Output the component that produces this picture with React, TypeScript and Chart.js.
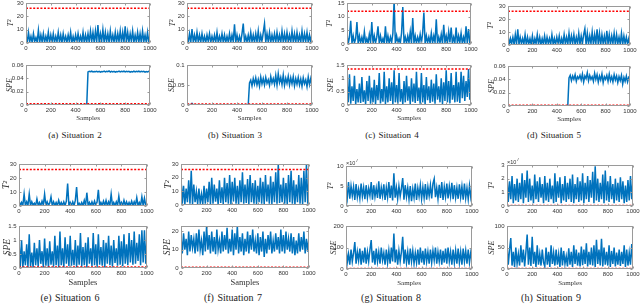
import React, { useEffect, useRef } from 'react';
import { Chart, registerables } from 'chart.js';

Chart.register(...registerables);

// ---------------- DATA (one value every 10 samples, 0..1000) ----------------
const SAMPLE_MAX = 1000;
const X_TICK_STEP = 200;

// Situation 2
const sit2T2 = [
  6, 0.4, 8, 0.9, 5, 0.3, 7, 1.2, 4, 0.6,
  9.5, 0.2, 6, 0.8, 7, 0.5, 5, 1, 8, 0.3,
  6, 0.7, 7, 0.4, 5, 0.9, 8, 0.6, 6, 0.2,
  7, 1.1, 5, 0.5, 6, 0.8, 8, 0.3, 5, 0.7,
  6, 0.4, 7, 1, 5, 0.6, 8, 0.3, 6, 0.9,
  7, 0.5, 9, 1.3, 8, 0.4, 9, 0.8, 13.5, 0.6,
  7, 1.2, 10, 0.5, 8, 0.9, 7, 0.3, 9, 1.1,
  6, 0.7, 8, 0.4, 7, 1, 9, 0.6, 8, 0.5,
  12.5, 0.8, 8, 0.5, 7, 1.2, 9, 0.4, 6, 0.9,
  8, 0.6, 7, 0.3, 9, 1, 6, 0.7, 8, 0.5,
  6,
];
const sit2SPE = [
  0.0004, 0.0001, 0.0005, 0.0002, 0.0006, 0.0001, 0.0004, 0.0002, 0.0005, 0.0001,
  0.0005, 0.0002, 0.0004, 0.0001, 0.0006, 0.0002, 0.0005, 0.0001, 0.0004, 0.0002,
  0.0006, 0.0001, 0.0004, 0.0002, 0.0005, 0.0001, 0.0006, 0.0002, 0.0004, 0.0001,
  0.0005, 0.0002, 0.0006, 0.0001, 0.0004, 0.0002, 0.0005, 0.0001, 0.0006, 0.0002,
  0.0004, 0.0001, 0.0005, 0.0002, 0.0004, 0.0001, 0.0006, 0.0002, 0.0005, 0.0003,
  0.0496, 0.0504, 0.0498, 0.0507, 0.0495, 0.0503, 0.0499, 0.0506, 0.0497, 0.0505,
  0.0494, 0.0503, 0.0498, 0.0508, 0.0496, 0.0504, 0.0499, 0.0511, 0.0495, 0.0505,
  0.0497, 0.0506, 0.0494, 0.0503, 0.0498, 0.0509, 0.0496, 0.0504, 0.0499, 0.0507,
  0.0495, 0.0504, 0.0498, 0.0506, 0.0493, 0.0503, 0.0497, 0.0508, 0.0496, 0.0505,
  0.0498, 0.0507, 0.0495, 0.0504, 0.0499, 0.0506, 0.0494, 0.0503, 0.0497, 0.0505,
  0.0501,
];

// Situation 3
const sit3T2 = [
  5, 0.6, 7, 0.3, 10.5, 0.9, 6, 0.4, 8, 1,
  6, 0.5, 7, 0.8, 5, 0.3, 6, 1.2, 7, 0.4,
  5, 0.9, 6, 0.5, 8, 0.3, 5, 1, 7, 0.6,
  6, 0.4, 5, 0.8, 7, 0.5, 6, 1.1, 14, 0.3,
  6, 0.7, 5, 0.4, 7, 14.5, 0.6, 5, 0.9, 6,
  0.4, 8, 1, 6, 0.5, 7, 0.8, 9, 0.3, 6,
  1.1, 8, 14.5, 0.6, 7, 0.9, 8, 0.4, 6, 1.2,
  7, 0.5, 8, 1, 6, 0.3, 9, 0.7, 7, 0.4,
  8, 1.1, 6, 0.5, 9, 0.8, 7, 0.3, 8, 1,
  6, 0.6, 9, 0.4, 7, 1.2, 8, 0.5, 6, 0.8,
  7,
];
const sit3SPE = [
  0.0008, 0.0003, 0.0009, 0.0002, 0.004, 0.0004, 0.0007, 0.0002, 0.0008, 0.0003,
  0.0007, 0.0002, 0.0009, 0.0003, 0.0008, 0.0002, 0.0007, 0.0004, 0.0009, 0.0002,
  0.0008, 0.0003, 0.0007, 0.0002, 0.0009, 0.0003, 0.0008, 0.0002, 0.0007, 0.0003,
  0.0009, 0.0002, 0.0008, 0.0004, 0.0007, 0.0002, 0.0009, 0.0003, 0.0008, 0.0002,
  0.0007, 0.0003, 0.0008, 0.0002, 0.0009, 0.0003, 0.0007, 0.0002, 0.0008, 0.0004,
  0.055, 0.062, 0.048, 0.066, 0.052, 0.068, 0.05, 0.064, 0.047, 0.07,
  0.053, 0.066, 0.05, 0.069, 0.054, 0.063, 0.049, 0.071, 0.055, 0.066,
  0.052, 0.074, 0.05, 0.078, 0.056, 0.069, 0.051, 0.075, 0.049, 0.067,
  0.054, 0.072, 0.05, 0.068, 0.053, 0.071, 0.048, 0.066, 0.052, 0.069,
  0.05, 0.065, 0.047, 0.068, 0.053, 0.063, 0.046, 0.07, 0.051, 0.066,
  0.05,
];

// Situation 4
const sit4T2 = [
  4, 0.2, 2.5, 8.5, 0.3, 3, 0.4, 2, 8, 0.2,
  3, 0.5, 2.5, 0.2, 4.5, 0.4, 2, 0.3, 3.5, 0.6,
  8, 0.2, 3, 0.4, 2.5, 6.5, 0.3, 3, 0.5, 2,
  0.2, 6.5, 0.4, 3, 0.3, 2.5, 0.5, 4, 16, 0.2,
  3, 0.5, 2, 0.3, 4, 13.5, 0.4, 2.5, 0.3, 3,
  0.5, 4.5, 0.2, 9.5, 0.4, 3, 0.3, 2.5, 0.6, 3.5,
  0.3, 4, 11.5, 0.2, 3, 0.5, 2.5, 0.3, 4, 0.4,
  3, 0.6, 9, 0.3, 2.5, 0.4, 3.5, 0.2, 7, 0.5,
  3, 0.3, 4.5, 0.6, 6, 0.2, 2.5, 0.4, 6, 0.3,
  3, 0.5, 4, 0.2, 2.5, 0.4, 6.5, 0.3, 5.5, 0.6,
  3,
];
const sit4SPE = [
  0.9, 0.1, 1.15, 0.05, 0.7, 0.15, 1.1, 0.02, 0.6, 0.1,
  0.8, 0.08, 1.05, 0.12, 0.55, 0.03, 0.9, 0.15, 1.1, 0.05,
  0.65, 0.1, 0.95, 0.02, 0.75, 0.18, 1.2, 0.06, 0.6, 0.12,
  1.25, 0.04, 0.7, 0.1, 1.0, 0.15, 0.85, 0.03, 1.3, 0.1,
  0.75, 0.05, 1.2, 0.12, 0.6, 0.02, 0.9, 0.1, 1.1, 0.16,
  0.7, 0.04, 1.0, 0.12, 0.8, 0.08, 1.25, 0.15, 0.65, 0.05,
  1.2, 0.1, 0.75, 0.02, 1.05, 0.18, 0.7, 0.08, 0.95, 0.12,
  0.8, 0.05, 1.15, 0.2, 0.7, 0.1, 1.0, 0.04, 0.85, 0.15,
  1.3, 0.1, 0.9, 0.06, 1.2, 0.2, 0.75, 0.1, 1.25, 0.12,
  0.85, 0.08, 1.25, 0.25, 1.1, 0.15, 0.9, 0.3, 1.35, 0.2,
  1.2,
];

// Situation 5
const sit5T2 = [
  7, 0.5, 5, 1, 6, 0.3, 8, 0.7, 12, 0.4,
  6, 1.1, 5, 0.6, 8, 0.3, 6, 0.9, 5, 0.5,
  7, 0.2, 5, 1, 8, 0.6, 6, 0.4, 5, 0.8,
  7, 0.3, 6, 1.2, 5, 0.5, 8, 0.7, 5, 0.4,
  6, 0.9, 7, 0.3, 5, 0.6, 8, 1, 6, 0.5,
  9, 0.7, 7, 1.3, 8, 0.4, 6, 1, 9, 0.6,
  7, 1.1, 8, 12.5, 0.5, 9, 0.8, 7, 1.2, 10,
  0.6, 8, 1, 12, 0.7, 9, 0.4, 8, 1.1, 7,
  0.5, 11, 0.9, 8, 0.6, 7, 1.2, 9, 0.4, 8,
  1, 6, 0.7, 9, 0.5, 7, 1.1, 6, 0.8, 5,
  0.6,
];
const sit5SPE = [
  0.0002, 0.0001, 0.0003, 0.0001, 0.0002, 0.0001, 0.0003, 0.0001, 0.0002, 0.0001,
  0.0003, 0.0001, 0.0002, 0.0001, 0.0003, 0.0001, 0.0002, 0.0001, 0.0003, 0.0001,
  0.0002, 0.0001, 0.0003, 0.0001, 0.0002, 0.0001, 0.0003, 0.0001, 0.0002, 0.0001,
  0.0003, 0.0001, 0.0002, 0.0001, 0.0003, 0.0001, 0.0002, 0.0001, 0.0003, 0.0001,
  0.0002, 0.0001, 0.0003, 0.0001, 0.0002, 0.0001, 0.0003, 0.0001, 0.0002, 0.0001,
  0.042, 0.046, 0.038, 0.045, 0.04, 0.047, 0.037, 0.044, 0.041, 0.046,
  0.039, 0.048, 0.036, 0.045, 0.041, 0.05, 0.038, 0.046, 0.04, 0.044,
  0.037, 0.049, 0.04, 0.047, 0.036, 0.045, 0.039, 0.048, 0.035, 0.044,
  0.04, 0.046, 0.037, 0.048, 0.038, 0.044, 0.036, 0.047, 0.039, 0.045,
  0.035, 0.044, 0.038, 0.046, 0.033, 0.043, 0.037, 0.045, 0.036, 0.043,
  0.041,
];

// Situation 6
const sit6T2 = [
  4, 0.3, 2.5, 0.5, 8.5, 0.2, 3, 0.4, 8.5, 0.3,
  3, 0.6, 2, 0.3, 5, 0.4, 2.5, 0.2, 3.5, 0.5,
  8.5, 0.3, 3, 0.5, 2, 6.5, 0.2, 3, 0.4, 2.5,
  0.3, 4, 0.5, 2.5, 0.2, 3, 0.4, 3.5, 16, 0.3,
  2.5, 0.4, 3, 0.2, 4, 13.5, 0.5, 2, 0.3, 2.5,
  0.4, 4, 0.3, 9.5, 0.5, 2.5, 0.2, 3, 0.4, 3.5,
  0.3, 3, 11.5, 0.2, 2.5, 0.5, 3.5, 0.3, 4, 0.2,
  3, 0.5, 8.5, 0.3, 2.5, 0.4, 3, 0.2, 7, 0.5,
  2.5, 0.3, 4, 0.5, 3, 0.2, 2.5, 0.4, 3.5, 0.3,
  3, 0.5, 6, 0.2, 2.5, 0.4, 6.5, 0.3, 5.5, 0.5,
  3,
];
const sit6SPE = [
  0.95, 0.05, 1.0, 0.02, 0.6, 0.1, 0.85, 0.04, 1.2, 0.06,
  0.55, 0.02, 0.9, 0.1, 0.7, 0.05, 1.0, 0.15, 0.6, 0.03,
  1.05, 0.08, 0.7, 0.02, 0.95, 0.12, 0.6, 0.05, 1.15, 0.1,
  0.8, 0.04, 1.3, 0.1, 0.7, 0.02, 1.1, 0.15, 0.85, 0.06,
  1.15, 0.08, 0.65, 0.1, 1.0, 0.03, 0.8, 0.12, 1.25, 0.05,
  0.75, 0.1, 0.9, 0.02, 1.1, 0.15, 0.7, 0.06, 1.25, 0.1,
  0.85, 0.04, 1.2, 0.12, 0.75, 0.08, 1.0, 0.02, 0.9, 0.15,
  1.15, 0.1, 0.8, 0.05, 1.0, 0.18, 0.7, 0.08, 1.15, 0.12,
  0.95, 0.06, 1.2, 0.15, 0.85, 0.1, 1.25, 0.2, 1.0, 0.12,
  1.3, 0.15, 0.9, 0.25, 1.2, 0.1, 1.35, 0.2, 1.35, 0.15,
  1.1,
];

// Situation 7
const sit7T2 = [
  20, 1, 14, 0.5, 12, 2, 18, 1, 25, 0.5,
  15, 2, 10, 0.8, 12, 1.5, 8, 0.5, 14, 1,
  12, 2, 17, 0.6, 20, 1, 15, 2.5, 12, 0.4,
  18, 1.5, 13, 0.8, 20, 2, 16, 1, 22, 0.5,
  17, 2.5, 20, 1, 14, 0.6, 18, 2, 24, 1,
  15, 1.5, 19, 0.5, 22, 2, 16, 1, 18, 0.7,
  14, 2, 20, 1, 17, 0.5, 22, 2.5, 15, 1,
  21, 0.8, 17, 2, 24, 1, 30, 1.5, 15, 2,
  20, 1, 16, 0.5, 22, 2, 25, 1, 18, 0.4,
  15, 2, 22, 1, 20, 0.6, 25, 2, 30, 1,
  20,
];
const sit7SPE = [
  17, 8, 19, 10, 16, 7, 20, 9, 18, 11,
  16, 8, 19, 9, 21, 10, 15, 7, 20, 9,
  23, 10, 18, 8, 20, 9, 17, 7.5, 21, 10,
  15, 8, 20, 9, 18, 10, 22, 8, 16, 9,
  21, 7, 19, 10, 23, 8, 17, 9, 19, 7,
  16, 9, 20, 8, 18, 10, 21, 9, 15, 8,
  19, 7, 17, 9, 20, 6, 16, 8, 18, 10,
  20, 8, 15, 9, 19, 10, 17, 8, 21, 9,
  18, 8, 20, 10, 16, 9, 19, 8, 17, 7,
  15, 8, 19, 9, 17, 10, 20, 8, 16, 9,
  17,
];

// Situation 8 (T² in units of 10^7)
const sit8T2e7 = [
  4.5, 2, 6, 1.8, 5, 2.5, 4.8, 1.5, 5.5, 2.2,
  4.2, 1.9, 5.6, 2.4, 4.6, 1.7, 5.2, 2.1, 4.4, 2.6,
  6, 1.6, 5.2, 2.3, 4.5, 2, 6.2, 1.8, 4.6, 2.5,
  5.4, 1.5, 4.6, 2.2, 6, 2, 5.1, 1.4, 8.2, 2.1,
  4.6, 1.8, 5, 2.4, 4.4, 7, 1.6, 5.2, 2.3, 4.6,
  1.7, 5, 1.2, 4.3, 2.1, 5.6, 1.5, 4.5, 2.4, 5.2,
  1.8, 4.7, 2, 5.5, 1.6, 4.8, 2.5, 5.2, 1.9, 5.6,
  6.8, 2.2, 4.6, 1.8, 5.3, 2, 6, 1.5, 4.8, 2.3,
  5.6, 1.9, 4.9, 2.4, 5.8, 1.7, 5.2, 2.1, 4.6, 1.8,
  5.4, 2.2, 4.9, 1.6, 5.6, 2, 4.5, 1.7, 5.1, 2.3,
  4.5,
];
const sit8SPE = [
  100, 30, 70, 20, 90, 35, 75, 125, 25, 80,
  40, 95, 20, 85, 30, 100, 25, 80, 35, 90,
  135, 30, 85, 20, 95, 35, 80, 25, 100, 40,
  75, 20, 90, 30, 85, 25, 100, 35, 165, 30,
  90, 20, 85, 35, 80, 150, 25, 90, 30, 80,
  20, 95, 35, 85, 25, 75, 30, 90, 20, 100,
  30, 85, 20, 95, 35, 80, 25, 90, 30, 85,
  40, 100, 25, 80, 35, 90, 20, 85, 30, 95,
  25, 100, 35, 80, 20, 90, 30, 85, 25, 95,
  30, 80, 20, 95, 35, 85, 25, 90, 30, 75,
  40,
];

// Situation 9 (T² in units of 10^7)
const sit9T2e7 = [
  2.2, 0.3, 1.8, 0.5, 2.2, 0.2, 1.6, 0.4, 2.0, 0.3,
  1.7, 0.5, 2.4, 0.2, 1.9, 0.6, 2.6, 0.3, 2.0, 0.4,
  1.5, 0.2, 2.3, 0.5, 1.8, 0.3, 2.1, 0.6, 1.6, 0.2,
  2.2, 0.4, 1.7, 0.3, 2.0, 0.5, 1.5, 0.2, 2.4, 0.3,
  1.8, 0.6, 2.1, 0.2, 1.6, 0.4, 2.2, 0.3, 1.7, 0.5,
  2.0, 0.3, 2.3, 0.2, 1.6, 0.5, 2.1, 0.3, 1.8, 0.4,
  2.4, 0.2, 1.7, 0.5, 2.2, 0.3, 1.9, 0.6, 2.5, 0.2,
  2.9, 0.4, 2.0, 0.3, 1.7, 0.5, 2.3, 0.2, 2.6, 0.4,
  1.8, 0.3, 2.2, 0.5, 1.6, 0.2, 2.0, 0.4, 1.7, 0.3,
  2.1, 0.5, 1.8, 0.2, 1.5, 0.3, 1.9, 0.4, 2.2, 0.5,
  1.9,
];
const sit9SPE = [
  55, 10, 45, 72, 8, 40, 5, 50, 12, 35,
  8, 55, 15, 45, 6, 40, 80, 10, 50, 7,
  75, 12, 40, 5, 55, 10, 35, 8, 45, 15,
  6, 50, 10, 40, 5, 55, 12, 38, 8, 45,
  10, 35, 5, 50, 8, 42, 12, 30, 6, 48,
  10, 40, 5, 55, 12, 45, 8, 38, 6, 52,
  9, 45, 12, 60, 6, 40, 10, 50, 8, 55,
  5, 68, 12, 45, 8, 70, 6, 50, 10, 40,
  8, 55, 5, 42, 12, 50, 6, 38, 10, 45,
  7, 40, 12, 55, 5, 45, 8, 38, 10, 58,
  12,
];

const captions = [
  '(a) Situation 2', '(b) Situation 3', '(c) Situation 4', '(d) Situation 5',
  '(e) Situation 6', '(f) Situation 7', '(g) Situation 8', '(h) Situation 9',
];
const t2Series = [sit2T2, sit3T2, sit4T2, sit5T2, sit6T2, sit7T2, sit8T2e7, sit9T2e7];
const speSeries = [sit2SPE, sit3SPE, sit4SPE, sit5SPE, sit6SPE, sit7SPE, sit8SPE, sit9SPE];
const t2Limits = [26, 26, 12, 26, 26, 26, 0.06, 0.03];
const speLimits = [0.0018, 0.0025, 1.35, 0.0012, 0.035, 0.35, 2, 1];
const t2AxisMax = [30, 30, 15, 30, 30, 30, 10, 3];
const t2AxisStep = [10, 10, 5, 10, 10, 10, 5, 1];
const speAxisMax = [0.06, 0.1, 1.5, 0.06, 1.5, 23, 200, 100];
const speAxisStep = [0.02, 0.05, 0.5, 0.02, 0.5, 10, 100, 50];
const t2Exponent = ['', '', '', '', '', '', '7', '7'];

// ---------------- LAYOUT ----------------
const LAYOUT = [
  { l: 26, r: 150, t2: [3, 43], spe: [65, 105], t2Off: 15, speOff: 16, cx: 75, cy: 135, cap: 9, ttl: 8, smp: 7, smpOff: 13.3 },
  { l: 187, r: 312, t2: [3, 43], spe: [65, 105], t2Off: 14.5, speOff: 15.5, cx: 235, cy: 135, cap: 9, ttl: 8, smp: 7, smpOff: 13.3 },
  { l: 347, r: 471, t2: [3, 44], spe: [65, 105], t2Off: 17, speOff: 16, cx: 392, cy: 135, cap: 9, ttl: 8, smp: 7, smpOff: 13.3 },
  { l: 508, r: 630, t2: [6, 45], spe: [66, 106], t2Off: 17.5, speOff: 16.5, cx: 554, cy: 135, cap: 9, ttl: 8, smp: 7, smpOff: 13.3 },
  { l: 19, r: 147, t2: [164, 206], spe: [226, 268], t2Off: 12.3, speOff: 11.7, cx: 70, cy: 298, cap: 10, ttl: 9.5, smp: 8.5, smpOff: 14.5 },
  { l: 181, r: 309, t2: [164, 205], spe: [226, 268], t2Off: 12.7, speOff: 13.7, cx: 233, cy: 298, cap: 10, ttl: 9.5, smp: 8.5, smpOff: 14.5 },
  { l: 346, r: 472, t2: [166, 206], spe: [226, 269], t2Off: 15, speOff: 12, cx: 391, cy: 298, cap: 10, ttl: 8, smp: 7, smpOff: 14 },
  { l: 507, r: 633, t2: [165, 206], spe: [226, 269], t2Off: 15.3, speOff: 15.3, cx: 551, cy: 298, cap: 10, ttl: 8, smp: 7, smpOff: 14 },
];

const BLUE = '#0072BD';
const RED = '#FF0000';
const AXIS = '#9a9a9a';
const TEXT = '#333333';
const SANS = '"Liberation Sans", Arial, Helvetica, sans-serif';
const SERIF = '"Liberation Serif", "Times New Roman", serif';
const TICK_SIZE = 6;
const PT = 7;
const PR = 10;

type Spec = {
  left: number; right: number; top: number; bottom: number;
  values: number[]; limit: number; yMax: number; yStep: number;
  yTitle: string; titleOff: number; titleSize: number;
  samples: boolean; samplesSize: number; samplesOff: number; xAxisH: number;
  exponent: string;
};

const fmt = (v: number | string) => String(Math.round(Number(v) * 1e6) / 1e6);

function SmallChart({ s }: { s: Spec }) {
  const ref = useRef<HTMLCanvasElement>(null);
  const L = Math.ceil(s.titleOff + s.titleSize / 2 + 1);
  const W = L + (s.right - s.left) + PR;
  const H = PT + (s.bottom - s.top) + s.xAxisH;

  useEffect(() => {
    if (!ref.current) return;
    const boxPlugin = {
      id: 'matlabBox',
      afterDraw(chart: any) {
        const { ctx, chartArea: a, scales } = chart;
        ctx.save();
        ctx.strokeStyle = AXIS;
        ctx.lineWidth = 1;
        const x0 = Math.round(a.left) + 0.5, x1 = Math.round(a.right) - 0.5;
        const y0 = Math.round(a.top) + 0.5, y1 = Math.round(a.bottom) - 0.5;
        ctx.strokeRect(x0, y0, x1 - x0, y1 - y0);
        ctx.beginPath();
        scales.x.ticks.forEach((t: any) => {
          const px = Math.round(scales.x.getPixelForValue(t.value)) + 0.5;
          ctx.moveTo(px, y1); ctx.lineTo(px, y1 - 2);
          ctx.moveTo(px, y0); ctx.lineTo(px, y0 + 2);
        });
        scales.y.ticks.forEach((t: any) => {
          const py = Math.round(scales.y.getPixelForValue(t.value)) + 0.5;
          ctx.moveTo(x0, py); ctx.lineTo(x0 + 2, py);
          ctx.moveTo(x1, py); ctx.lineTo(x1 - 2, py);
        });
        ctx.stroke();
        if (s.exponent) {
          ctx.fillStyle = TEXT;
          ctx.textAlign = 'left';
          ctx.textBaseline = 'alphabetic';
          ctx.font = `5.5px ${SANS}`;
          const bx = a.left, by = a.top - 1.5;
          ctx.fillText('\u00d710', bx, by);
          const w = ctx.measureText('\u00d710').width;
          ctx.font = `4.5px ${SANS}`;
          ctx.fillText(s.exponent, bx + w + 0.3, by - 2.5);
        }
        ctx.restore();
      },
    };

    const zeroPad = (sc: any) => {
      sc.paddingLeft = 0; sc.paddingRight = 0; sc.paddingTop = 0; sc.paddingBottom = 0;
    };
    const keepSteps = (step: number) => (sc: any) => {
      sc.ticks = sc.ticks.filter((t: any) => Math.abs(t.value / step - Math.round(t.value / step)) < 1e-6);
    };

    const n = s.values.length;
    const chart = new Chart(ref.current, {
      type: 'line',
      data: {
        datasets: [
          {
            data: [{ x: 0, y: s.limit }, { x: SAMPLE_MAX, y: s.limit }],
            borderColor: RED,
            borderWidth: 1.5,
            borderDash: [2, 1.6],
            pointRadius: 0,
            fill: false,
          },
          {
            data: s.values.map((v, i) => ({ x: (i * SAMPLE_MAX) / (n - 1), y: v })),
            borderColor: BLUE,
            borderWidth: 1.5,
            pointRadius: 0,
            tension: 0,
            fill: false,
          },
        ],
      },
      options: {
        animation: false,
        responsive: false,
        maintainAspectRatio: false,
        events: [],
        layout: { padding: { top: PT, right: PR, left: 0, bottom: 0 }, autoPadding: false },
        plugins: { legend: { display: false }, tooltip: { enabled: false }, title: { display: false } },
        scales: {
          x: {
            type: 'linear',
            min: 0,
            max: SAMPLE_MAX,
            bounds: 'data',
            grid: { display: false, drawTicks: false },
            border: { display: false },
            ticks: {
              stepSize: X_TICK_STEP,
              autoSkip: false,
              maxRotation: 0,
              padding: 1.5,
              color: TEXT,
              font: { family: SANS, size: TICK_SIZE },
              callback: (v: any) => fmt(v),
            },
            title: s.samples
              ? {
                  display: true,
                  text: 'Samples',
                  color: TEXT,
                  font: { family: SERIF, size: s.samplesSize, lineHeight: 1 },
                  padding: { top: 0, bottom: Math.max(0, s.xAxisH - s.samplesOff - s.samplesSize / 2) },
                }
              : { display: false },
            afterBuildTicks: keepSteps(X_TICK_STEP),
            afterFit: (sc: any) => { sc.height = s.xAxisH; zeroPad(sc); },
          },
          y: {
            type: 'linear',
            min: 0,
            max: s.yMax,
            bounds: 'data',
            grid: { display: false, drawTicks: false },
            border: { display: false },
            ticks: {
              stepSize: s.yStep,
              includeBounds: false,
              padding: 2.5,
              color: TEXT,
              font: { family: SANS, size: TICK_SIZE },
              callback: (v: any) => fmt(v),
            },
            title: {
              display: true,
              text: s.yTitle,
              color: TEXT,
              font: { family: SERIF, size: s.titleSize, style: 'italic', lineHeight: 1 },
              padding: { top: L - s.titleOff - s.titleSize / 2, bottom: 0 },
            },
            afterBuildTicks: keepSteps(s.yStep),
            afterFit: (sc: any) => { sc.width = L; zeroPad(sc); },
          },
        },
      } as any,
      plugins: [boxPlugin as any],
    });
    return () => chart.destroy();
  }, [s, L, W, H]);

  return (
    <canvas
      ref={ref}
      width={W}
      height={H}
      style={{ position: 'absolute', left: s.left - L, top: s.top - PT, width: W, height: H }}
    />
  );
}

const specs: Spec[] = [];
LAYOUT.forEach((g, i) => {
  specs.push({
    left: g.l, right: g.r, top: g.t2[0], bottom: g.t2[1],
    values: t2Series[i], limit: t2Limits[i], yMax: t2AxisMax[i], yStep: t2AxisStep[i],
    yTitle: 'T\u00b2', titleOff: g.t2Off, titleSize: g.ttl,
    samples: false, samplesSize: g.smp, samplesOff: 0, xAxisH: 11,
    exponent: t2Exponent[i],
  });
  specs.push({
    left: g.l, right: g.r, top: g.spe[0], bottom: g.spe[1],
    values: speSeries[i], limit: speLimits[i], yMax: speAxisMax[i], yStep: speAxisStep[i],
    yTitle: 'SPE', titleOff: g.speOff, titleSize: g.ttl,
    samples: true, samplesSize: g.smp, samplesOff: g.smpOff, xAxisH: Math.ceil(g.smpOff + g.smp / 2 + 1),
    exponent: '',
  });
});

export default function App() {
  return (
    <div style={{ position: 'absolute', left: 0, top: 0, width: 640, height: 304, background: '#ffffff', overflow: 'hidden' }}>
      {specs.map((s, i) => (
        <SmallChart key={i} s={s} />
      ))}
      {LAYOUT.map((g, i) => (
        <div
          key={'c' + i}
          style={{
            position: 'absolute',
            left: g.cx,
            top: g.cy,
            transform: 'translate(-50%, -50%)',
            whiteSpace: 'nowrap',
            fontFamily: SERIF,
            fontSize: g.cap,
            lineHeight: 1,
            color: '#222',
            wordSpacing: 1,
          }}
        >
          {captions[i]}
        </div>
      ))}
    </div>
  );
}
